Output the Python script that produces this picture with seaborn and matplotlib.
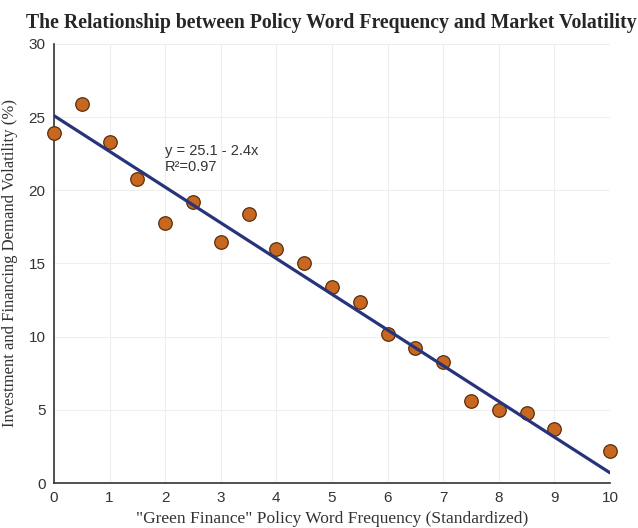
import matplotlib
matplotlib.use("Agg")
import matplotlib.pyplot as plt
import pandas as pd
import seaborn as sns

freq = [0, 0.5, 1, 1.5, 2, 2.5, 3, 3.5, 4, 4.5, 5, 5.5, 6, 6.5, 7, 7.5, 8, 8.5, 9, 10]
volatility = [23.9, 25.9, 23.3, 20.8, 17.8, 19.2, 16.5, 18.4, 16.0, 15.0,
              13.4, 12.4, 10.2, 9.2, 8.3, 5.6, 5.0, 4.8, 3.7, 2.2]
fit_x = [0, 10]
fit_y = [25.1, 0.7]

data = pd.DataFrame({'freq': freq, 'vol': volatility})
fit = pd.DataFrame({'x': fit_x, 'y': fit_y})

sns.set_style('white')
fig = plt.figure(figsize=(6.38, 5.28), dpi=100)
ax = fig.add_axes([0.0846, 0.0852, 0.8714, 0.8315])

sns.scatterplot(data=data, x='freq', y='vol', color='#C8671F', edgecolor='#5A2E0C',
                linewidth=0.9, s=95, ax=ax, zorder=3, clip_on=False)
sns.lineplot(data=fit, x='x', y='y', color='#27337A', linewidth=2.3, ax=ax, zorder=4)

ax.set_xlim(0, 10)
ax.set_ylim(0, 30)
ax.set_xticks(range(0, 11))
ax.set_yticks(range(0, 31, 5))
ax.grid(True, color='#EEEEEE', linewidth=0.8)
ax.set_axisbelow(True)
for s in ['top', 'right']:
    ax.spines[s].set_visible(False)
for s in ['left', 'bottom']:
    ax.spines[s].set_color('#333333')
    ax.spines[s].set_linewidth(1.2)
ax.tick_params(direction='in', length=4, color='#333333', labelsize=11,
               labelcolor='#333333', pad=6)
for lab in ax.get_xticklabels() + ax.get_yticklabels():
    lab.set_family('Liberation Sans')

ax.text(2.0, 21.1, 'y = 25.1 - 2.4x\nR²=0.97', fontsize=10.5, family='Liberation Sans',
        color='#333333', linespacing=1.2, va='bottom')

ax.set_xlabel('"Green Finance" Policy Word Frequency (Standardized)', family='Liberation Serif',
              fontsize=12.5, color='#333333', labelpad=4)
ax.set_ylabel('Investment and Financing Demand Volatility (%)', family='Liberation Serif',
              fontsize=12, color='#333333', labelpad=8)
fig.suptitle('The Relationship between Policy Word Frequency and Market Volatility',
             family='Liberation Serif', fontweight='bold', fontsize=14.2, x=0.52, y=0.975)

fig.savefig('out.png', dpi=100)
